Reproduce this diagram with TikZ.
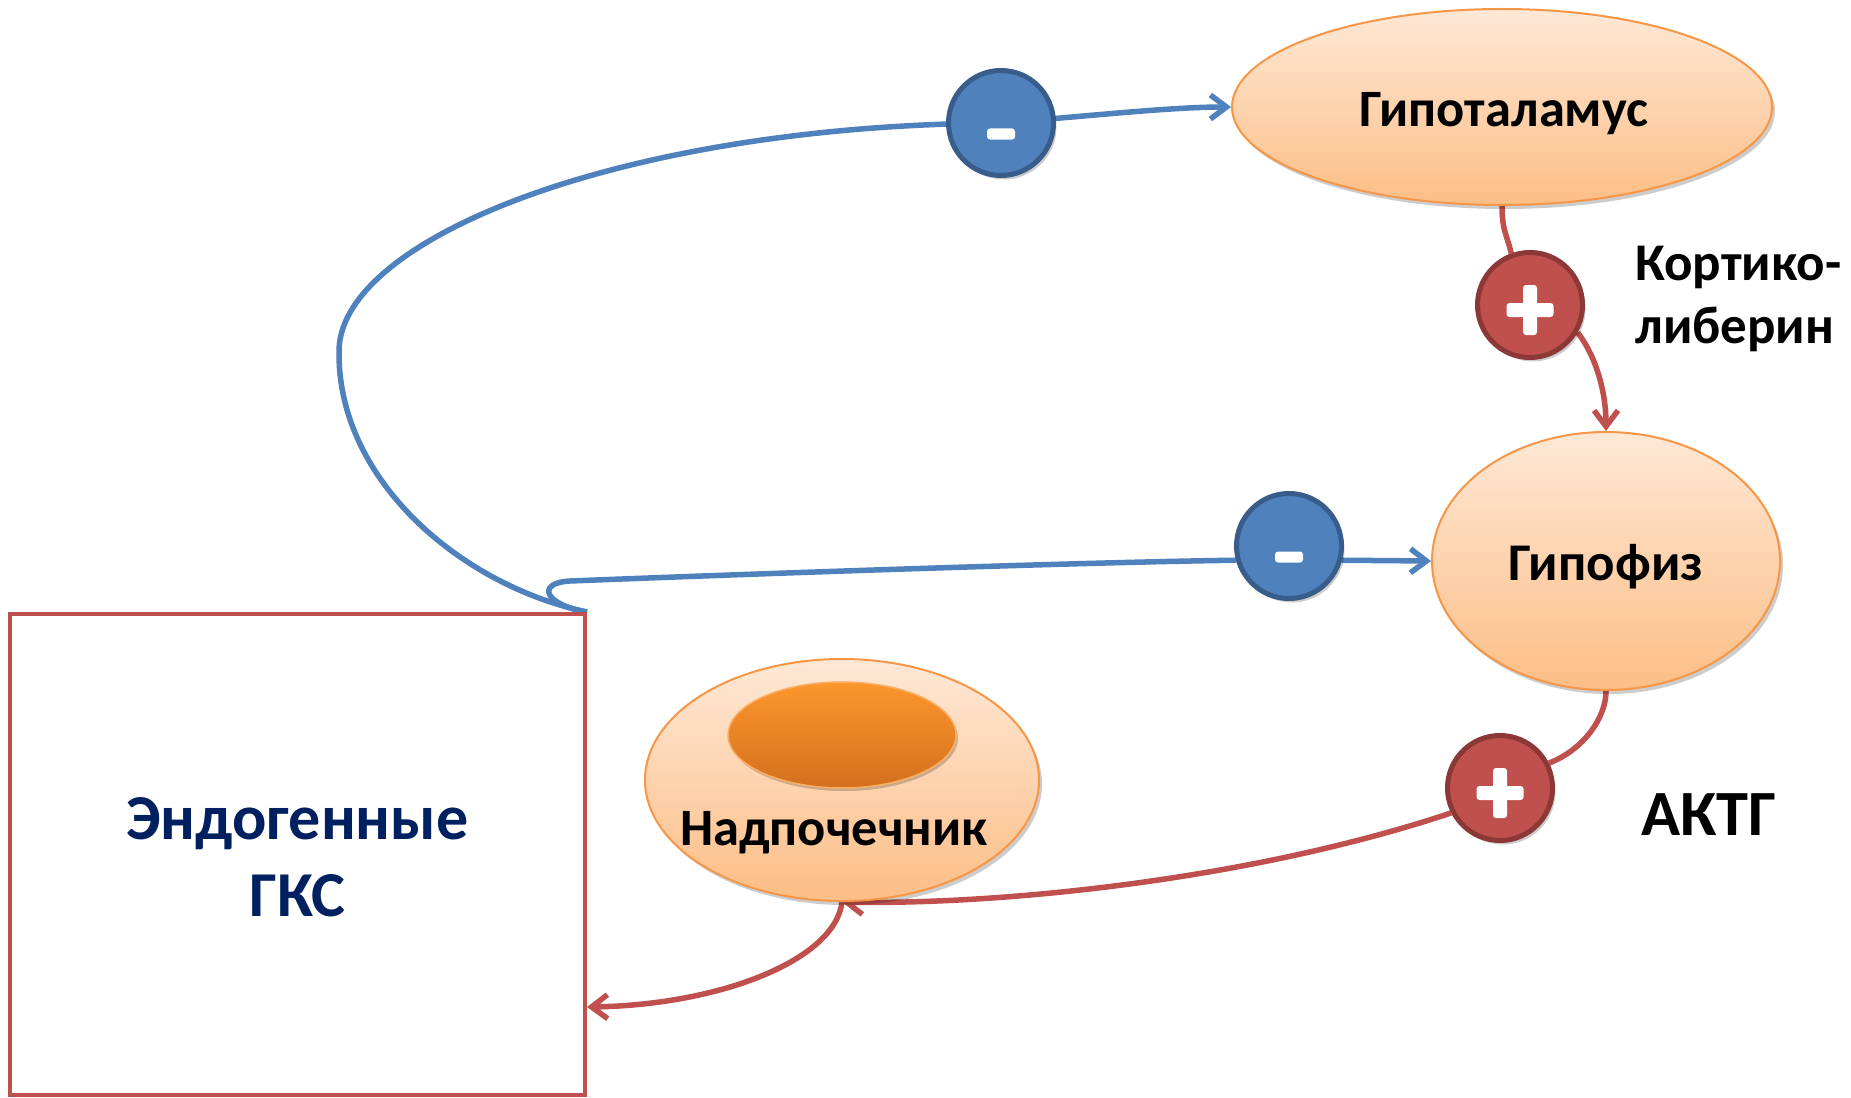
\documentclass[tikz,border=0pt]{standalone}
\usepackage{fontspec}
\setmainfont{Carlito}
\usetikzlibrary{shapes.geometric,arrows.meta,shadows,backgrounds}
\definecolor{oblue}{HTML}{4F81BD}
\definecolor{obluedk}{HTML}{385D8A}
\definecolor{ored}{HTML}{C0504D}
\definecolor{oreddk}{HTML}{8C3836}
\definecolor{oorange}{HTML}{F79646}
\definecolor{peachtop}{RGB}{254,232,214}
\definecolor{peachbot}{RGB}{252,190,134}
\definecolor{darktop}{RGB}{252,150,45}
\definecolor{darkbot}{RGB}{212,112,30}
\definecolor{innerline}{RGB}{250,175,100}
\definecolor{navy}{HTML}{002060}
\begin{document}
\begin{tikzpicture}[x=1pt,y=-1pt,
  organ/.style={ellipse, draw=oorange, line width=2pt, top color=peachtop, bottom color=peachbot,
    inner sep=0pt, drop shadow={shadow xshift=3pt,shadow yshift=-4pt,opacity=0.2,fill=black}},
  sign/.style={circle, minimum size=105pt, inner sep=0pt, line width=5pt,
    drop shadow={shadow xshift=3pt,shadow yshift=-4pt,opacity=0.2,fill=black}},
  minus/.style={sign, fill=oblue, draw=obluedk},
  plus/.style={sign, fill=ored, draw=oreddk},
  blueline/.style={draw=oblue, line width=5.5pt},
  redline/.style={draw=ored, line width=5.5pt},
  tipped/.style={-{Straight Barb[length=16pt,width=24pt]}},
  lbl/.style={inner sep=0pt, anchor=base}
]
\begin{pgfonlayer}{background}
\fill[white] (0,0) rectangle (1851,1097);
\end{pgfonlayer}
\useasboundingbox (0,0) rectangle (1851,1097);

% main nodes
\node[draw=ored, line width=4pt, minimum width=575pt, minimum height=481pt, inner sep=0pt] (box) at (297.5,854.5) {};
\node[organ, minimum width=540pt, minimum height=196pt] (hyp) at (1502,107) {};
\node[organ, minimum width=348pt, minimum height=258pt] (pit) at (1606,561) {};
\node[organ, minimum width=394pt, minimum height=242pt] (adr) at (842,780) {};
\node[ellipse, draw=innerline, line width=1.5pt, top color=darktop, bottom color=darkbot, inner sep=0pt,
  minimum width=228pt, minimum height=106pt,
  drop shadow={shadow xshift=2pt,shadow yshift=-3pt,opacity=0.2,fill=black}] (adrin) at (842,735) {};

% sign circles
\node[minus] (m1) at (1001,123) {};
\node[minus] (m2) at (1289,546) {};
\node[plus] (p1) at (1530,305) {};
\node[plus] (p2) at (1500,788) {};
\fill[white, rounded corners=3pt] ([shift={(-14pt,-16.5pt)}]m1.center) rectangle ([shift={(14pt,-5.5pt)}]m1.center);
\fill[white, rounded corners=3pt] ([shift={(-14pt,-16.5pt)}]m2.center) rectangle ([shift={(14pt,-5.5pt)}]m2.center);
\foreach \p in {p1,p2}{
  \fill[white, rounded corners=3pt] ([shift={(-23.5pt,-12pt)}]\p.center) rectangle ([shift={(23.5pt,2pt)}]\p.center);
  \fill[white, rounded corners=3pt] ([shift={(-7pt,-30pt)}]\p.center) rectangle ([shift={(7pt,20pt)}]\p.center);
}

% texts
\node[lbl, font={\bfseries\fontsize{52.5}{62}\selectfont}] (hyptext) at (1504,126) {Гипоталамус};
\node[lbl, font={\bfseries\fontsize{53}{62}\selectfont}] (pittext) at (1606,580) {Гипофиз};
\node[lbl, font={\bfseries\fontsize{52.5}{62}\selectfont}] (adrtext) at (834,845) {Надпочечник};
\node[lbl, anchor=base west, font={\bfseries\fontsize{53}{62}\selectfont}] (kort1) at (1635,280) {Кортико-};
\node[lbl, anchor=base west, font={\bfseries\fontsize{53}{62}\selectfont}] (kort2) at (1635,343) {либерин};
\node[lbl, anchor=base west, font={\bfseries\fontsize{64.5}{76}\selectfont}] (aktg) at (1641,835) {АКТГ};
\node[lbl, text=navy, font={\bfseries\fontsize{64}{77}\selectfont}] (gks1) at (297.5,839) {Эндогенные};
\node[lbl, text=navy, font={\bfseries\fontsize{64}{77}\selectfont}] (gks2) at (297.5,916) {ГКС};

% connectors
\begin{pgfonlayer}{background}
\draw[blueline] (box.north east) .. controls (460,585) and (339,480) .. (339,354)
  .. controls (335,240) and (620,125) .. (m1.center);
\draw[blueline, tipped] (m1.center) .. controls (1090,116) and (1170,107) .. (hyp.west);
\draw[blueline] (box.north east) .. controls (545,605) and (535,583) .. (570,581)
  .. controls (800,572) and (1100,562) .. (m2.195);
\draw[blueline, tipped] (m2.-15) -- (pit.west);
\draw[redline] (hyp.south) .. controls +(0,25) and +(-4,-18) .. (p1.110);
\draw[redline, tipped] (p1.-30) .. controls (1595,355) and (1606,390) .. (pit.north);
\draw[redline] (pit.south) .. controls (1606,718) and (1583,750) .. (p2.27);
\draw[redline, tipped] (p2.207) .. controls (1250,880) and (1000,905) .. (adr.south);
\draw[redline, tipped] (adr.south) .. controls (835,960) and (720,1005) .. ([yshift=-152.5pt]box.east);
\end{pgfonlayer}
\end{tikzpicture}
\end{document}
